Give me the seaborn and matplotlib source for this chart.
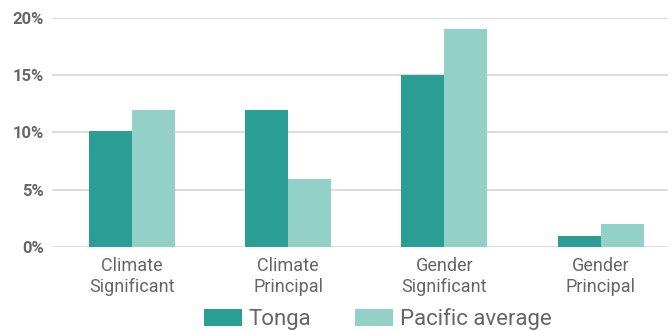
import matplotlib
matplotlib.use("Agg")
import matplotlib.pyplot as plt
import seaborn as sns
import pandas as pd
from matplotlib.patches import Patch

# -------------------- DATA --------------------
categories = ["Climate\nSignificant", "Climate\nPrincipal", "Gender\nSignificant", "Gender\nPrincipal"]
tonga = [10.1, 12, 15, 1]
pacific = [12, 5.9, 19, 2]
series_names = ["Tonga", "Pacific average"]
y_ticks = [0, 5, 10, 15, 20]
y_tick_labels = ["0%", "5%", "10%", "15%", "20%"]

colors = {"Tonga": "#2a9d94", "Pacific average": "#93d0c6"}
text_color = "#666666"

df = pd.DataFrame({
    "category": categories * 2,
    "value": tonga + pacific,
    "series": [series_names[0]] * len(categories) + [series_names[1]] * len(categories),
})

# -------------------- PLOT --------------------
sns.set_theme(style="white")
plt.rcParams['font.family'] = ['Roboto', 'DejaVu Sans']

fig = plt.figure(figsize=(6.72, 3.31), dpi=100)
ax = fig.add_axes([0.0774, 0.2538, 0.9166, 0.6918])

sns.barplot(data=df, x="category", y="value", hue="series", palette=colors,
            width=0.55, saturation=1, ax=ax, legend=False, linewidth=0)

ax.set_xlim(-0.51, 3.43)
ax.set_ylim(0, 20)
ax.set_yticks(y_ticks)
ax.set_yticklabels(y_tick_labels, fontsize=12, fontweight="bold", color=text_color)
ax.tick_params(axis="x", labelsize=13, colors=text_color, length=0, pad=7)
ax.tick_params(axis="y", length=0, pad=6)
ax.set_xlabel("")
ax.set_ylabel("")
ax.yaxis.grid(True, color="#d9d9d9", linewidth=1.3)
ax.set_axisbelow(True)
for s in ax.spines.values():
    s.set_visible(False)

# legend sits at the bottom edge, as in the source
handles = [Patch(facecolor=colors[n], edgecolor="none", label=n) for n in series_names]
fig.legend(handles=handles, loc="center", bbox_to_anchor=(0.562, 0.035), ncol=2,
           frameon=False, fontsize=16, labelcolor=text_color,
           handlelength=1.7, handleheight=0.8, handletextpad=0.3, columnspacing=2.0,
           borderpad=0.2)

fig.savefig("out.png", dpi=100)
